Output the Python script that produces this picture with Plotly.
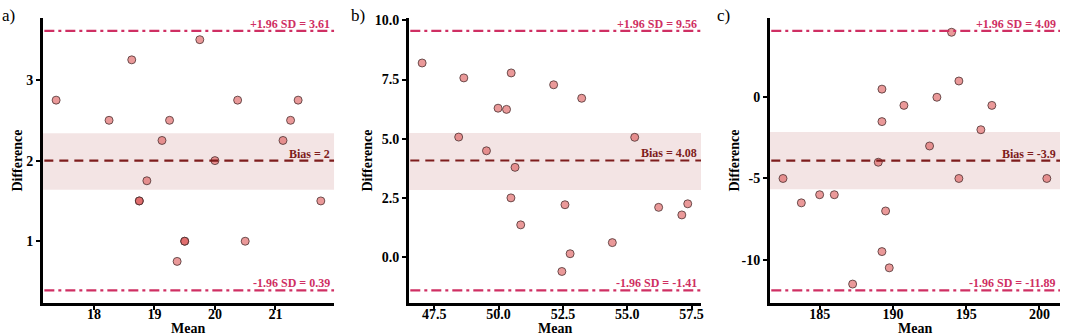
import plotly.graph_objects as go

# ---------------- data ----------------
a_mean = [17.375, 18.25, 18.625, 19.125, 19.25, 19.75, 20.0, 20.375, 21.125, 21.25, 21.375,
          18.875, 18.75, 18.75, 21.75, 19.5, 19.5, 19.375, 20.5]
a_diff = [2.75, 2.5, 3.25, 2.25, 2.5, 3.5, 2.0, 2.75, 2.25, 2.5, 2.75,
          1.75, 1.5, 1.5, 1.5, 1.0, 1.0, 0.75, 1.0]
a_bias, a_upper, a_lower = 2.0, 3.61, 0.39
a_band = [1.64, 2.34]

b_mean = [47.03, 48.65, 48.45, 49.53, 49.98, 50.31, 50.49, 50.64, 52.14, 53.23, 55.29,
          50.48, 50.86, 52.58, 52.78, 52.46, 54.42, 56.22, 57.12, 57.35]
b_diff = [8.2, 7.57, 5.07, 4.49, 6.29, 6.24, 7.78, 3.79, 7.28, 6.71, 5.06,
          2.5, 1.36, 2.21, 0.14, -0.61, 0.61, 2.1, 1.78, 2.25]
b_bias, b_upper, b_lower = 4.08, 9.56, -1.41
b_band = [2.83, 5.24]

c_mean = [194.0, 194.5, 189.25, 190.75, 193.0, 196.75, 189.25, 196.0, 192.5, 189.0,
          182.5, 194.5, 200.5, 183.75, 185.0, 186.0, 189.5, 189.25, 189.75, 187.25]
c_diff = [4.0, 1.0, 0.5, -0.5, 0.0, -0.5, -1.5, -2.0, -3.0, -4.0,
          -5.0, -5.0, -5.0, -6.5, -6.0, -6.0, -7.0, -9.5, -10.5, -11.5]
c_bias, c_upper, c_lower = -3.9, 4.09, -11.89
c_band = [-5.66, -2.14]

a_xticks = [18, 19, 20, 21]
a_yticks = [1, 2, 3]
b_xticks = [47.5, 50.0, 52.5, 55.0, 57.5]
b_yticks = [0.0, 2.5, 5.0, 7.5, 10.0]
c_xticks = [185, 190, 195, 200]
c_yticks = [-10, -5, 0]

panel_labels = ["a)", "b)", "c)"]

# ---------------- styling ----------------
FONT = "Liberation Serif, Times New Roman, DejaVu Serif, serif"
LIMIT_COL = "#CF2F63"
BIAS_COL = "#7E1C1C"
BAND_COL = "#F3E4E4"
PT_FILL = "rgba(218,80,80,0.58)"
PT_LINE = "#4a3030"

panels = [
    dict(x=a_mean, y=a_diff, bias=a_bias, up=a_upper, lo=a_lower, band=a_band,
         xt=a_xticks, yt=a_yticks, xfmt="{:g}", yfmt="{:g}",
         xdom=[43/1065, 335/1065], label_x=0/1065),
    dict(x=b_mean, y=b_diff, bias=b_bias, up=b_upper, lo=b_lower, band=b_band,
         xt=b_xticks, yt=b_yticks, xfmt="{:.1f}", yfmt="{:.1f}",
         xdom=[410/1065, 703/1065], label_x=350/1065),
    dict(x=c_mean, y=c_diff, bias=c_bias, up=c_upper, lo=c_lower, band=c_band,
         xt=c_xticks, yt=c_yticks, xfmt="{:g}", yfmt="{:g}",
         xdom=[772/1065, 1063/1065], label_x=717/1065),
]
title_x_px = [18, 369, 737]

ydom = [1 - 303/336, 1 - 14/336]

fig = go.Figure()
layout = dict(
    width=1065, height=336,
    margin=dict(l=0, r=0, t=0, b=0),
    paper_bgcolor="white", plot_bgcolor="white",
    showlegend=False,
    font=dict(family=FONT, color="black"),
)
shapes = []
annotations = []

for i, p in enumerate(panels):
    n = "" if i == 0 else str(i + 1)
    xa, ya = "x" + n, "y" + n
    fig.add_trace(go.Scatter(
        x=p["x"], y=p["y"], mode="markers", xaxis=xa, yaxis=ya,
        marker=dict(size=8, color=PT_FILL, line=dict(color=PT_LINE, width=0.8)),
        hoverinfo="x+y"))

    allx = p["x"]
    ally = p["y"] + [p["up"], p["lo"]]
    xr = max(allx) - min(allx)
    yr = max(ally) - min(ally)
    xrange = [min(allx) - 0.05 * xr, max(allx) + 0.05 * xr]
    yrange = [min(ally) - 0.05 * yr, max(ally) + 0.05 * yr]

    common = dict(showgrid=False, zeroline=False, showline=True, linecolor="black",
                  linewidth=2.5, ticks="outside", ticklen=4, tickwidth=1.5,
                  tickcolor="black",
                  tickfont=dict(family=FONT, size=14, color="black"))
    layout["xaxis" + n] = dict(common, domain=p["xdom"], range=xrange, anchor=ya,
                               tickvals=p["xt"], ticklabelstandoff=-8,
                               ticktext=["<b>" + p["xfmt"].format(v) + "</b>" for v in p["xt"]])
    layout["yaxis" + n] = dict(common, domain=ydom, range=yrange, anchor=xa,
                               tickvals=p["yt"],
                               ticktext=["<b>" + p["yfmt"].format(v) + "</b>" for v in p["yt"]])

    shapes.append(dict(type="rect", xref=xa + " domain", yref=ya, x0=0, x1=1,
                       y0=p["band"][0], y1=p["band"][1], fillcolor=BAND_COL,
                       line=dict(width=0), layer="below"))
    for val, col, dash, w in [(p["up"], LIMIT_COL, "10px,4px,3px,4px", 2.2),
                              (p["lo"], LIMIT_COL, "10px,4px,3px,4px", 2.2),
                              (p["bias"], BIAS_COL, "9px,6px", 2.2)]:
        shapes.append(dict(type="line", xref=xa + " domain", yref=ya, x0=0.005, x1=1,
                           y0=val, y1=val, line=dict(color=col, width=w, dash=dash)))

    for val, txt, col in [(p["up"], "+1.96 SD = {:g}".format(p["up"]), LIMIT_COL),
                          (p["lo"], "-1.96 SD = {:g}".format(p["lo"]), LIMIT_COL),
                          (p["bias"], "Bias = {:g}".format(p["bias"]), BIAS_COL)]:
        annotations.append(dict(xref=xa + " domain", yref=ya, x=1, y=val,
                                xanchor="right", yanchor="bottom", xshift=-2, yshift=-2,
                                text="<b>" + txt + "</b>", showarrow=False,
                                font=dict(family=FONT, size=12, color=col)))

    # axis titles
    annotations.append(dict(xref="paper", yref="paper",
                            x=(p["xdom"][0] + p["xdom"][1]) / 2, y=0,
                            xanchor="center", yanchor="bottom", yshift=-2,
                            text="<b>Mean</b>", showarrow=False,
                            font=dict(family=FONT, size=14, color="black")))
    annotations.append(dict(xref="paper", yref="paper",
                            x=title_x_px[i] / 1065, y=(ydom[0] + ydom[1]) / 2,
                            xanchor="center", yanchor="middle", text="<b>Difference</b>",
                            textangle=-90, showarrow=False,
                            font=dict(family=FONT, size=14, color="black")))
    annotations.append(dict(xref="paper", yref="paper", x=p["label_x"], y=1 - 12/336,
                            xanchor="left", yanchor="middle", text=panel_labels[i],
                            showarrow=False, font=dict(family=FONT, size=17, color="black")))

layout["shapes"] = shapes
layout["annotations"] = annotations
fig.update_layout(**layout)
fig.write_html("out.html", config={"displayModeBar": False},
               post_script="document.body.style.margin='0';document.body.style.padding='0';")
